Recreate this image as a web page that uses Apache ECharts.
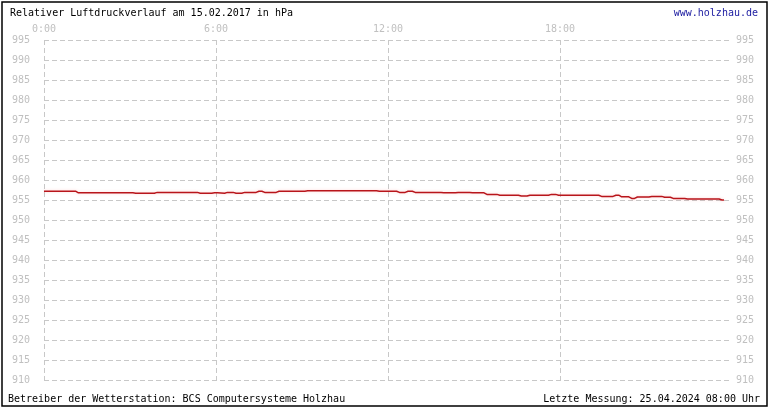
<!DOCTYPE html>
<html>
<head>
<meta charset="utf-8">
<title>Relativer Luftdruckverlauf</title>
<script src="https://cdn.jsdelivr.net/npm/echarts@6/dist/echarts.min.js"></script>
<style>
  html, body { margin: 0; padding: 0; background: #fff; }
  #main { width: 770px; height: 410px; }
</style>
</head>
<body>
<div id="main"></div>
<script type="text/javascript">
// Messzeitpunkte (Stunden seit 0:00) und Luftdruck in hPa
var hours = [
  0, 1.1, 1.2, 3.1, 3.2, 3.85, 3.95, 5.35, 5.45, 5.85,
  5.95, 6.05, 6.1, 6.3, 6.4, 6.6, 6.7, 6.9, 7.0, 7.4,
  7.5, 7.6, 7.7, 8.1, 8.2, 9.1, 9.2, 11.6, 11.7, 12.3,
  12.4, 12.6, 12.7, 12.85, 12.95, 13.85, 13.95, 14.35, 14.45, 14.85,
  14.95, 15.35, 15.45, 15.8, 15.9, 16.55, 16.65, 16.85, 16.95, 17.6,
  17.7, 17.85, 17.95, 19.35, 19.45, 19.85, 19.95, 20.05, 20.15, 20.4,
  20.5, 20.6, 20.7, 21.1, 21.2, 21.55, 21.65, 21.85, 21.95, 22.35,
  22.45, 23.55, 23.65, 23.72
];
var pressure = [
  957.2, 957.2, 956.8, 956.8, 956.7, 956.7, 956.9, 956.9, 956.7, 956.7,
  956.8, 956.8, 956.7, 956.7, 956.9, 956.9, 956.7, 956.7, 956.9, 956.9,
  957.2, 957.2, 956.9, 956.9, 957.2, 957.2, 957.3, 957.3, 957.2, 957.2,
  956.9, 956.9, 957.2, 957.2, 956.9, 956.9, 956.8, 956.8, 956.9, 956.9,
  956.8, 956.8, 956.4, 956.4, 956.2, 956.2, 956.0, 956.0, 956.2, 956.2,
  956.4, 956.4, 956.2, 956.2, 955.9, 955.9, 956.2, 956.2, 955.8, 955.8,
  955.4, 955.4, 955.75, 955.75, 955.9, 955.9, 955.7, 955.7, 955.4, 955.4,
  955.25, 955.25, 955.0, 955.0
];
var hourTicks = ['0:00', '6:00', '12:00', '18:00'];
var yMin = 910, yMax = 995, yStep = 5;

var mono = 'DejaVu Sans Mono';
var gridColor = '#c8c8c8';
var labelColor = '#c0c0c0';

var chart = echarts.init(document.getElementById('main'));

function yAxisDef(pos, margin) {
  return {
    type: 'value',
    position: pos,
    min: yMin, max: yMax, interval: yStep,
    axisLine: { show: false },
    axisTick: { show: false },
    axisLabel: { color: labelColor, fontFamily: mono, fontSize: 10, margin: margin },
    splitLine: { show: pos === 'left', lineStyle: { color: gridColor, type: [5, 3], width: 1 } }
  };
}

chart.setOption({
  animation: false,
  grid: { left: 44, right: 38, top: 40, bottom: 30 },
  graphic: [
    { type: 'rect', shape: { x: 2, y: 2, width: 765, height: 404 },
      style: { fill: 'none', stroke: '#000', lineWidth: 1.5 }, silent: true },
    { type: 'text', left: 10, top: 8,
      style: { text: 'Relativer Luftdruckverlauf am 15.02.2017 in hPa', fill: '#000', font: '10px ' + mono } },
    { type: 'text', right: 12, top: 8,
      style: { text: 'www.holzhau.de', fill: '#1a1aa0', font: '10px ' + mono } },
    { type: 'text', left: 8, top: 394,
      style: { text: 'Betreiber der Wetterstation: BCS Computersysteme Holzhau', fill: '#000', font: '10px ' + mono } },
    { type: 'text', right: 10, top: 394,
      style: { text: 'Letzte Messung: 25.04.2024 08:00 Uhr', fill: '#000', font: '10px ' + mono } }
  ],
  xAxis: {
    type: 'value',
    position: 'top',
    min: 0, max: 24, interval: 6,
    axisLine: { show: false },
    axisTick: { show: false },
    axisLabel: {
      color: labelColor, fontFamily: mono, fontSize: 10, margin: 6,
      formatter: function (v) { return hourTicks[v / 6] || ''; }
    },
    splitLine: { show: true, showMaxLine: false, lineStyle: { color: gridColor, type: [5, 3], width: 1 } }
  },
  yAxis: [yAxisDef('left', 14), yAxisDef('right', 4)],
  series: [{
    type: 'line',
    data: hours.map(function (h, i) { return [h, pressure[i]]; }),
    showSymbol: false,
    lineStyle: { color: '#b8151b', width: 1.5, shadowColor: 'rgba(255,80,80,0.25)', shadowBlur: 3 }
  }]
});
</script>
</body>
</html>
